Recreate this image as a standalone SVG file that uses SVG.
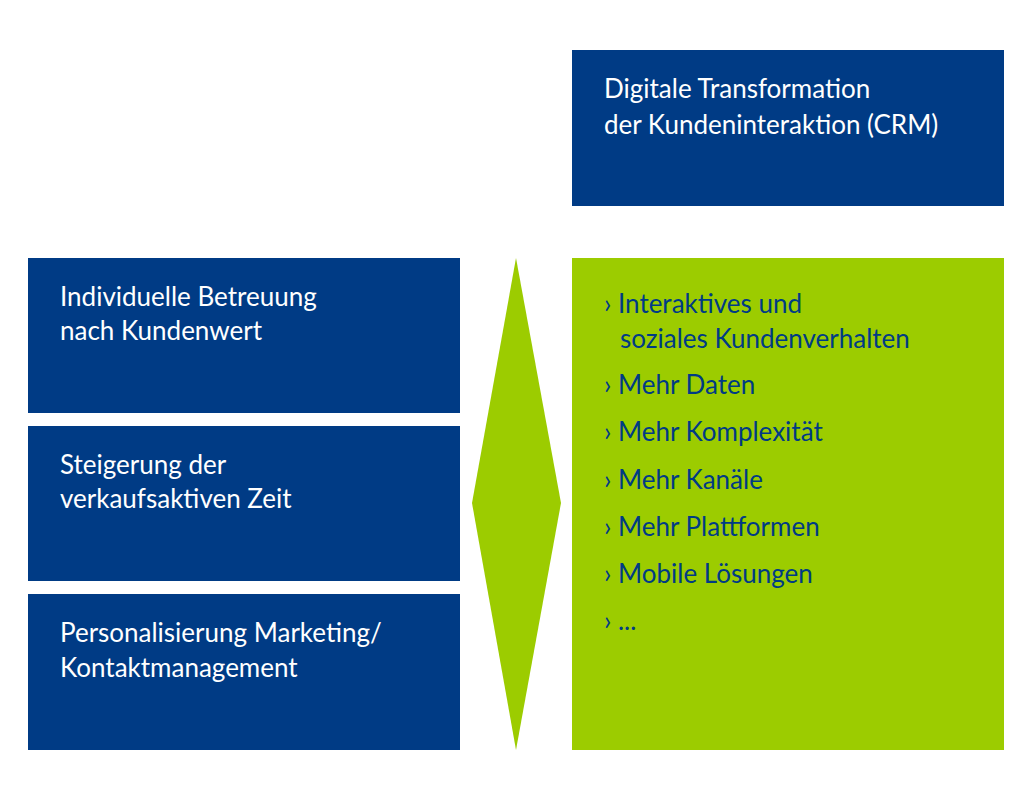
<svg xmlns="http://www.w3.org/2000/svg" width="1024" height="798" viewBox="0 0 1024 798">
<style>
.b{fill:#003b85}.g{fill:#9ccc00}
text{font-family:Lato,"Liberation Sans",sans-serif;font-size:26px}
.w{fill:#fff}.d{fill:#003b85}
</style>
<rect width="1024" height="798" fill="#fff"/>
<g id="top"><rect class="b" x="572" y="50" width="432" height="156"/>
<text class="w" x="604" y="98">Digitale Transformation</text><text class="w" x="604" y="134">der Kundeninteraktion (CRM)</text></g>
<g id="n1"><rect class="b" x="28" y="258" width="432" height="155"/>
<text class="w" x="60" y="306">Individuelle Betreuung</text><text class="w" x="60" y="340">nach Kundenwert</text></g>
<g id="n2"><rect class="b" x="28" y="426" width="432" height="155"/>
<text class="w" x="60" y="474">Steigerung der</text><text class="w" x="60" y="508">verkaufsaktiven Zeit</text></g>
<g id="n3"><rect class="b" x="28" y="594" width="432" height="156"/>
<text class="w" x="60" y="642">Personalisierung Marketing/</text><text class="w" x="60" y="677">Kontaktmanagement</text></g>
<g id="connectors"><polygon class="g" points="516,258 561,503 516,750 472,503"/></g>
<g id="list"><rect class="g" x="572" y="258" width="432" height="492"/>
<text class="d" x="604" y="313">› Interaktives und</text>
<text class="d" x="620" y="348">soziales Kundenverhalten</text>
<text class="d" x="604" y="394">› Mehr Daten</text>
<text class="d" x="604" y="441">› Mehr Komplexität</text>
<text class="d" x="604" y="489">› Mehr Kanäle</text>
<text class="d" x="604" y="536">› Mehr Plattformen</text>
<text class="d" x="604" y="583">› Mobile Lösungen</text>
<text class="d" x="604" y="630">› ...</text></g>
</svg>
